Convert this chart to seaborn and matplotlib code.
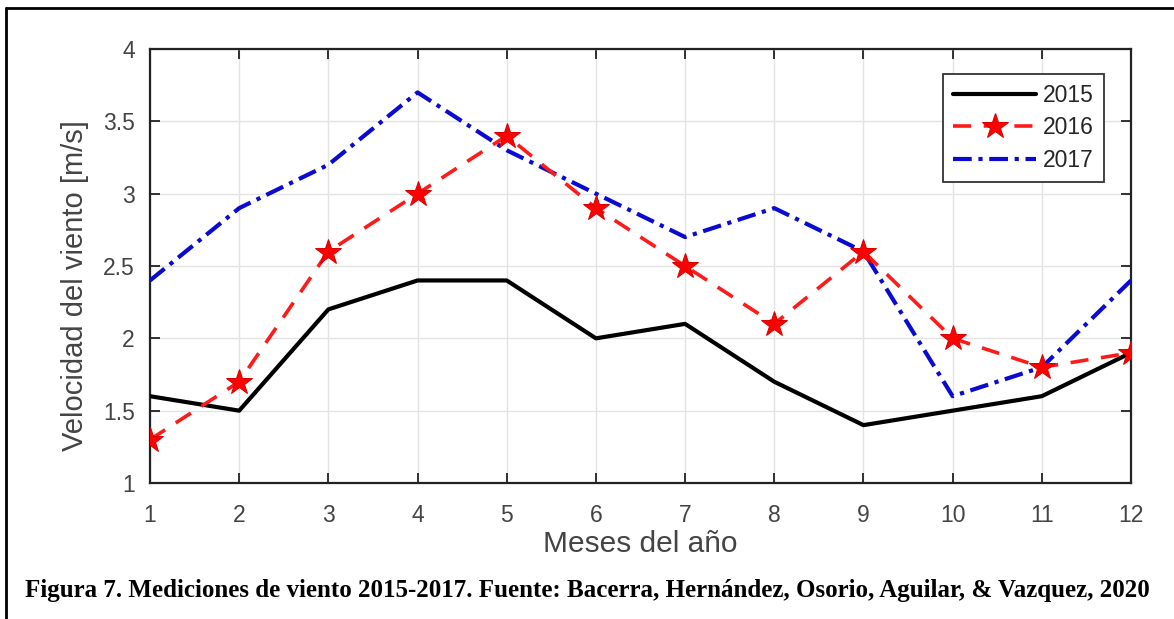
import matplotlib
matplotlib.use("Agg")
import matplotlib.pyplot as plt
import seaborn as sns
import pandas as pd
from matplotlib.lines import Line2D

months = [1, 2, 3, 4, 5, 6, 7, 8, 9, 10, 11, 12]
v2015 = [1.6, 1.5, 2.2, 2.4, 2.4, 2.0, 2.1, 1.7, 1.4, 1.5, 1.6, 1.9]
v2016 = [1.3, 1.7, 2.6, 3.0, 3.4, 2.9, 2.5, 2.1, 2.6, 2.0, 1.8, 1.9]
v2017 = [2.4, 2.9, 3.2, 3.7, 3.3, 3.0, 2.7, 2.9, 2.6, 1.6, 1.8, 2.4]
series_names = ["2015", "2016", "2017"]
yticks = [1, 1.5, 2, 2.5, 3, 3.5, 4]
yticklabels = ["1", "1.5", "2", "2.5", "3", "3.5", "4"]

sns.set_theme(style="white")
plt.rcParams['font.family'] = ['Liberation Sans', 'DejaVu Sans']

fig = plt.figure(figsize=(11.74, 6.19), dpi=100)
ax = fig.add_axes([150/1174, 1-483/619, (1131-150)/1174, (483-49)/619])

df = pd.DataFrame({"mes": months, "2015": v2015, "2016": v2016, "2017": v2017})

sns.lineplot(data=df, x="mes", y="2015", ax=ax, color="black", lw=3.0,
             label=series_names[0], zorder=3)
sns.lineplot(data=df, x="mes", y="2016", ax=ax, color="#ff1a1a", lw=2.6,
             marker="*", markersize=19, markerfacecolor="red",
             markeredgecolor="#dd0000", label=series_names[1], zorder=4)
sns.lineplot(data=df, x="mes", y="2017", ax=ax, color="#0a0ad0", lw=3.0,
             label=series_names[2], zorder=3)
lines = ax.get_lines()
lines[1].set_dashes([5, 3.5])
lines[2].set_dashes([4.5, 1.6, 1.0, 1.6])

ax.set_xlim(1, 12)
ax.set_ylim(1, 4)
ax.set_xticks(months)
ax.set_xticklabels([str(m) for m in months])
ax.set_yticks(yticks)
ax.set_yticklabels(yticklabels)
ax.grid(True, color="#e3e3e3", lw=1.0)
for s in ax.spines.values():
    s.set_color("#222222")
    s.set_linewidth(1.6)
ax.tick_params(direction="in", length=7, width=1.3, colors="#222222",
               labelcolor="#444444", labelsize=16.5, top=True, right=True,
               bottom=True, left=True)
ax.tick_params(axis="x", pad=15)
ax.tick_params(axis="y", pad=11)
ax.set_xlabel("Meses del año", fontsize=21.5, color="#444444", labelpad=2)
ax.set_ylabel("Velocidad del viento [m/s]", fontsize=21, color="#444444", labelpad=10)
ax.yaxis.label.set_y(0.455)

leg = ax.legend(loc="upper right", bbox_to_anchor=(1104/1174, 1-74/619),
                bbox_transform=fig.transFigure, fontsize=16.5, frameon=True,
                fancybox=False, edgecolor="#333333", handlelength=3.6,
                handletextpad=0.3, borderpad=0.45, labelspacing=0.4,
                borderaxespad=0)
leg.get_frame().set_linewidth(1.3)
leg.get_frame().set_alpha(1)

# page frame (left and top edges)
fig.add_artist(Line2D([6/1174, 6/1174], [0, 1-8/619], transform=fig.transFigure,
                      color="black", lw=2))
fig.add_artist(Line2D([6/1174, 1], [1-8/619, 1-8/619], transform=fig.transFigure,
                      color="black", lw=2))

fig.text(587/1174, 1-591/619,
         "Figura 7. Mediciones de viento 2015-2017. Fuente: Bacerra, Hernández, Osorio, Aguilar, & Vazquez, 2020",
         ha="center", va="center", fontsize=18, fontweight="bold",
         family=["Liberation Serif", "DejaVu Serif"], color="black")

fig.savefig("out.png", dpi=100)
